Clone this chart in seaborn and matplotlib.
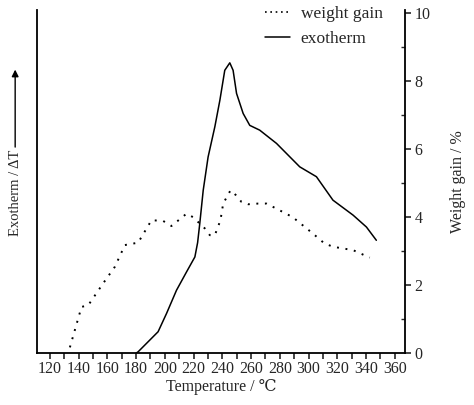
#!/usr/bin/env python3

import numpy as np
import pandas as pd
import matplotlib
matplotlib.use("Agg")
import matplotlib.pyplot as plt
from matplotlib.lines import Line2D
from matplotlib.ticker import MultipleLocator
import seaborn as sns

# weight gain (%), dotted curve, right axis
wg_temp = [133.9, 142, 146.7, 157, 165.2, 172.2, 181.4, 190.7, 198.8, 204.6, 215,
           219.7, 224.3, 227.8, 231.3, 234.8, 238.7, 240.6, 245.7, 249.4, 253.3,
           258, 264.9, 270.7, 277.7, 289, 303, 311, 317, 331, 342.6]
wg_value = [0.17, 1.36, 1.41, 2.05, 2.54, 3.18, 3.25, 3.91, 3.89, 3.74, 4.1,
            4.0, 3.81, 3.67, 3.47, 3.47, 3.91, 4.4, 4.79, 4.65, 4.45,
            4.38, 4.4, 4.4, 4.25, 4.0, 3.52, 3.23, 3.13, 3.03, 2.81]

# exotherm (arbitrary units, drawn on the same 0-10 scale), solid curve
ex_temp = [180, 181.4, 195.3, 201.2, 208.1, 215.1, 220.9, 222.8, 224.3, 226.7,
           230.1, 234.8, 238.3, 241.7, 245.2, 247.5, 249.9, 254.5, 259.1, 266,
           277.7, 293.9, 305.5, 317, 331, 340.3, 347.2]
ex_value = [0.0, 0.04, 0.63, 1.17, 1.85, 2.39, 2.83, 3.25, 3.81, 4.79,
            5.77, 6.66, 7.44, 8.32, 8.54, 8.32, 7.64, 7.05, 6.7, 6.56,
            6.17, 5.48, 5.19, 4.5, 4.06, 3.71, 3.32]

x_ticks = list(range(120, 361, 20))
y_ticks = [0, 2, 4, 6, 8, 10]

wg = pd.DataFrame({"T": wg_temp, "v": wg_value})
ex = pd.DataFrame({"T": ex_temp, "v": ex_value})

sns.set_style("white")
plt.rcParams["font.family"] = ["Liberation Serif", "DejaVu Serif", "DejaVu Sans"]

fig = plt.figure(figsize=(4.74, 4.05), dpi=100)
ax = fig.add_axes([0.078, 0.128, 0.776, 0.847])

sns.lineplot(data=wg, x="T", y="v", ax=ax, color="black", lw=1.4,
             linestyle=(0, (1, 3.4)), sort=False)
sns.lineplot(data=ex, x="T", y="v", ax=ax, color="black", lw=1.1, sort=False)

ax.set_xlim(111, 367)
ax.set_ylim(0, 10.09)

for s in ["left", "right", "bottom"]:
    ax.spines[s].set_visible(True)
    ax.spines[s].set_color("black")
    ax.spines[s].set_linewidth(1.3)
ax.spines["top"].set_visible(False)

ax.set_xticks(x_ticks)
ax.xaxis.set_minor_locator(MultipleLocator(10))
ax.tick_params(axis="x", which="both", direction="out", length=4, width=1.2,
               labelsize=11.5, pad=2, bottom=True)

ax.yaxis.tick_right()
ax.yaxis.set_label_position("right")
ax.set_yticks(y_ticks)
ax.yaxis.set_minor_locator(MultipleLocator(1))
ax.tick_params(axis="y", which="major", direction="out", length=4, width=1.2,
               labelsize=11.5, pad=3, right=True, left=False)
ax.tick_params(axis="y", which="minor", direction="in", length=3, width=1.0,
               right=True, left=False)

ax.set_xlabel("Temperature / \u2103", fontsize=11.5, labelpad=1)
ax.set_ylabel("Weight gain / %", fontsize=11.5, labelpad=14)

# left axis label with upward arrow
fig.text(0.032, 0.523, "Exotherm / \u0394T", rotation=90, fontsize=10.5,
         ha="center", va="center")
ax.annotate("", xy=(0.032, 0.835), xytext=(0.032, 0.63),
            xycoords="figure fraction", textcoords="figure fraction",
            arrowprops=dict(arrowstyle="-|>", color="black", lw=1.0,
                            mutation_scale=10))

handles = [Line2D([], [], color="black", lw=1.2, linestyle=(0, (1, 2.2))),
           Line2D([], [], color="black", lw=1.1)]
fig.legend(handles, ["weight gain", "exotherm"], loc="upper left",
           bbox_to_anchor=(0.559, 0.985), frameon=False, fontsize=12.5,
           borderpad=0, borderaxespad=0,
           handlelength=1.45, handletextpad=0.6, labelspacing=0.52)

fig.savefig("out.png", dpi=100)
